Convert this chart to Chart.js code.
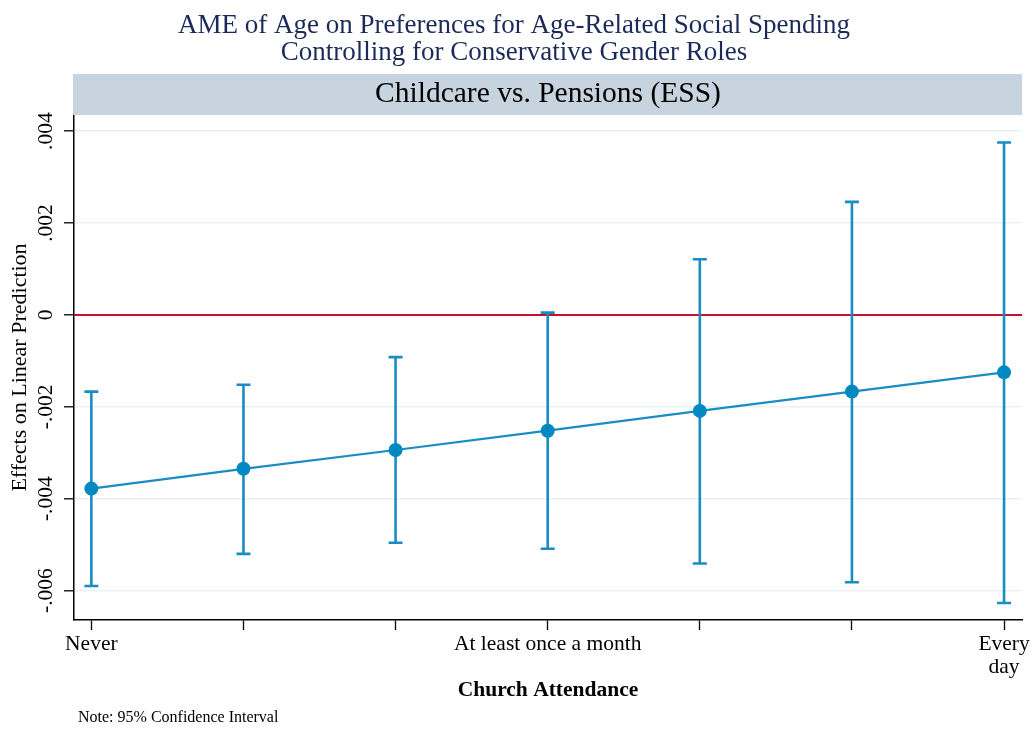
<!DOCTYPE html>
<html>
<head>
<meta charset="utf-8">
<script src="https://cdn.jsdelivr.net/npm/chart.js@4.4.1/dist/chart.umd.min.js"></script>
<style>
  html, body { margin: 0; padding: 0; background: #ffffff; }
  #wrap { width: 1033px; height: 731px; position: relative; }
</style>
</head>
<body>
<div id="wrap"><canvas id="c" width="1033" height="731"></canvas></div>
<script>
// Church attendance categories (only three are labelled on the axis)
const categories = ['Never', '', '', 'At least once a month', '', '', ['Every', 'day']];
// Average marginal effect of age, with 95% confidence bounds
const ame = [-0.00378, -0.00335, -0.00294, -0.00252, -0.00209, -0.00167, -0.00125];
const ciLower = [-0.00590, -0.00520, -0.00496, -0.00509, -0.00541, -0.00582, -0.00627];
const ciUpper = [-0.00167, -0.00152, -0.00092, 0.00005, 0.00121, 0.00246, 0.00375];
// Y axis ticks and their labels
const yTicks = [-0.006, -0.004, -0.002, 0, 0.002, 0.004];
const yTickLabels = ['-.006', '-.004', '-.002', '0', '.002', '.004'];

const titleLines = ['AME of Age on Preferences for Age-Related Social Spending',
                    'Controlling for Conservative Gender Roles'];
const stripTitle = 'Childcare vs. Pensions (ESS)';
const yTitle = 'Effects on Linear Prediction';
const xTitle = 'Church Attendance';
const note = 'Note: 95% Confidence Interval';

const SERIF = '"Liberation Serif", "Times New Roman", serif';
const LINE_BLUE = '#1a8cc4';
const MARK_BLUE = '#0088c0';

// Text, strip, zero line and confidence intervals around the plot
const decorations = {
  id: 'decorations',
  beforeDatasetsDraw(chart) {
    const { ctx, chartArea: a, scales: { x, y } } = chart;
    ctx.save();
    // reference line at zero
    const y0 = y.getPixelForValue(0);
    ctx.strokeStyle = '#c8102e';
    ctx.lineWidth = 2;
    ctx.beginPath();
    ctx.moveTo(a.left, y0);
    ctx.lineTo(a.right, y0);
    ctx.stroke();
    // confidence interval bars with caps
    ctx.strokeStyle = LINE_BLUE;
    ctx.lineWidth = 2.6;
    const cap = 7;
    ame.forEach((v, i) => {
      const px = x.getPixelForValue(i);
      const lo = y.getPixelForValue(ciLower[i]);
      const hi = y.getPixelForValue(ciUpper[i]);
      ctx.beginPath();
      ctx.moveTo(px, lo); ctx.lineTo(px, hi);
      ctx.moveTo(px - cap, lo); ctx.lineTo(px + cap, lo);
      ctx.moveTo(px - cap, hi); ctx.lineTo(px + cap, hi);
      ctx.stroke();
    });
    ctx.restore();
  },
  afterDraw(chart) {
    const { ctx, chartArea: a, scales: { y } } = chart;
    ctx.save();
    // main title
    ctx.fillStyle = '#1c2a5a';
    ctx.textAlign = 'center';
    ctx.textBaseline = 'middle';
    ctx.font = '27px ' + SERIF;
    ctx.fillText(titleLines[0], 514, 26);
    ctx.fillText(titleLines[1], 514, 53);
    // panel strip
    ctx.fillStyle = '#c7d3df';
    ctx.fillRect(a.left - 1, 74, a.right - a.left + 1, a.top - 74);
    ctx.fillStyle = '#000000';
    ctx.font = '29.5px ' + SERIF;
    ctx.fillText(stripTitle, (a.left + a.right) / 2, 94);
    // y tick labels, rotated
    ctx.font = '21.5px ' + SERIF;
    yTicks.forEach((v, i) => {
      ctx.save();
      ctx.translate(46, y.getPixelForValue(v));
      ctx.rotate(-Math.PI / 2);
      ctx.fillText(yTickLabels[i], 0, 0);
      ctx.restore();
    });
    // y axis title
    ctx.save();
    ctx.font = '22px ' + SERIF;
    ctx.translate(20, (a.top + a.bottom) / 2);
    ctx.rotate(-Math.PI / 2);
    ctx.fillText(yTitle, 0, 0);
    ctx.restore();
    // x axis title
    ctx.font = 'bold 21.5px ' + SERIF;
    ctx.fillText(xTitle, (a.left + a.right) / 2, 690);
    // note
    ctx.textAlign = 'left';
    ctx.font = '16px ' + SERIF;
    ctx.fillText(note, 78, 718);
    ctx.restore();
  }
};

new Chart(document.getElementById('c'), {
  type: 'line',
  data: {
    datasets: [{
      data: ame.map((v, i) => ({ x: i, y: v })),
      borderColor: LINE_BLUE,
      borderWidth: 2.2,
      pointRadius: 7,
      pointHoverRadius: 7,
      pointBackgroundColor: MARK_BLUE,
      pointBorderWidth: 0,
      tension: 0
    }]
  },
  options: {
    responsive: false,
    animation: false,
    events: [],
    layout: { padding: { left: 0, top: 115, right: 11, bottom: 0 } },
    plugins: { legend: { display: false }, tooltip: { enabled: false }, title: { display: false } },
    scales: {
      x: {
        type: 'linear',
        min: -0.114,
        max: 6.118,
        afterBuildTicks: s => { s.ticks = categories.map((c, i) => ({ value: i })); },
        afterFit: s => { s.height = 111; s.paddingLeft = 0; s.paddingRight = 0; },
        ticks: {
          autoSkip: false,
          maxRotation: 0,
          minRotation: 0,
          padding: 3,
          color: '#000000',
          font: { family: SERIF, size: 21.5, lineHeight: 1.05 },
          callback: v => categories[v]
        },
        grid: { drawOnChartArea: false, tickLength: 10, tickColor: '#000000', tickWidth: 1.3 },
        border: { color: '#000000', width: 1.5 }
      },
      y: {
        min: -0.00664,
        max: 0.00435,
        afterBuildTicks: s => { s.ticks = yTicks.map(v => ({ value: v })); },
        afterFit: s => { s.width = 74; s.paddingTop = 0; s.paddingBottom = 0; },
        ticks: { display: false },
        grid: { color: '#e9f1f3', lineWidth: 1.6, tickLength: 10, tickColor: '#000000', tickWidth: 1.3 },
        border: { color: '#000000', width: 1.5 }
      }
    }
  },
  plugins: [decorations]
});
</script>
</body>
</html>
